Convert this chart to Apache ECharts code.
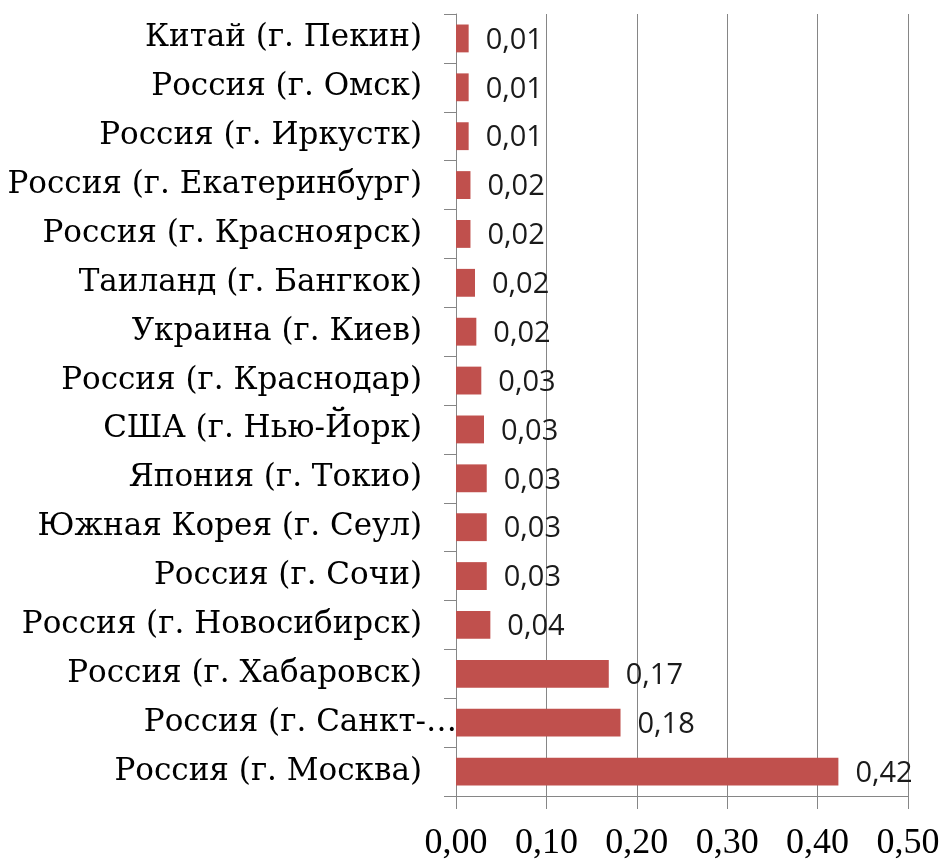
<!DOCTYPE html>
<html>
<head>
<meta charset="utf-8">
<script src="https://cdn.jsdelivr.net/npm/echarts@6/dist/echarts.min.js"></script>
<style>
html,body{margin:0;padding:0;background:#fff;}
#chart{width:946px;height:862px;}
</style>
</head>
<body>
<div id="chart"></div>
<script>
// Categories, top to bottom as shown
var categories = [
  'Китай (г. Пекин)',
  'Россия (г. Омск)',
  'Россия (г. Иркустк)',
  'Россия (г. Екатеринбург)',
  'Россия (г. Красноярск)',
  'Таиланд (г. Бангкок)',
  'Украина (г. Киев)',
  'Россия (г. Краснодар)',
  'США (г. Нью-Йорк)',
  'Япония (г. Токио)',
  'Южная Корея (г. Сеул)',
  'Россия (г. Сочи)',
  'Россия (г. Новосибирск)',
  'Россия (г. Хабаровск)',
  'Россия (г. Санкт-Петербург)',
  'Россия (г. Москва)'
];
var values = [0.014, 0.014, 0.014, 0.016, 0.016, 0.021, 0.0225, 0.028, 0.031, 0.034, 0.034, 0.034, 0.038, 0.169, 0.182, 0.423];
var xTickLabels = ['0,00', '0,10', '0,20', '0,30', '0,40', '0,50'];

var chart = echarts.init(document.getElementById('chart'), null, {renderer: 'canvas'});
var gray = '#868686';
var catFont = 'DejaVu Serif';
var option = {
  animation: false,
  backgroundColor: '#ffffff',
  grid: {left: 456, right: 38, top: 14, bottom: 66, containLabel: false},
  xAxis: {
    type: 'value',
    min: 0,
    max: 0.5,
    interval: 0.1,
    axisLine: {show: true, lineStyle: {color: gray, width: 1}},
    axisTick: {show: true, length: 13, lineStyle: {color: gray, width: 1}},
    splitLine: {show: true, lineStyle: {color: gray, width: 1}},
    axisLabel: {
      margin: 30,
      fontFamily: 'Liberation Serif',
      fontSize: 36,
      color: '#000',
      formatter: function (v, i) { return xTickLabels[i]; }
    }
  },
  yAxis: {
    type: 'category',
    inverse: true,
    data: categories,
    axisLine: {show: true, lineStyle: {color: gray, width: 1}},
    axisTick: {show: true, length: 12, lineStyle: {color: gray, width: 1}},
    splitLine: {show: false},
    axisLabel: {
      margin: -1,
      interval: 0,
      fontFamily: catFont,
      fontSize: 31,
      color: '#000',
      formatter: function (name) {
        if (name.length > 24) {
          return '{t|' + name.slice(0, 17) + '…}';
        }
        return '{n|' + name + '}';
      },
      rich: {
        n: {fontFamily: catFont, fontSize: 31, color: '#000', padding: [0, 35, 0, 0]},
        t: {fontFamily: catFont, fontSize: 31, color: '#000', padding: [0, 0, 0, 0]}
      }
    }
  },
  series: [{
    type: 'bar',
    data: values,
    barCategoryGap: '43%',
    itemStyle: {color: '#C0504D'},
    label: {
      show: true,
      position: 'right',
      distance: 17,
      fontFamily: 'Open Sans',
      fontSize: 29,
      color: '#1a1a1a',
      offset: [0, 2],
      formatter: function (p) { return p.value.toFixed(2).replace('.', ','); }
    }
  }]
};
chart.setOption(option);
</script>
</body>
</html>
